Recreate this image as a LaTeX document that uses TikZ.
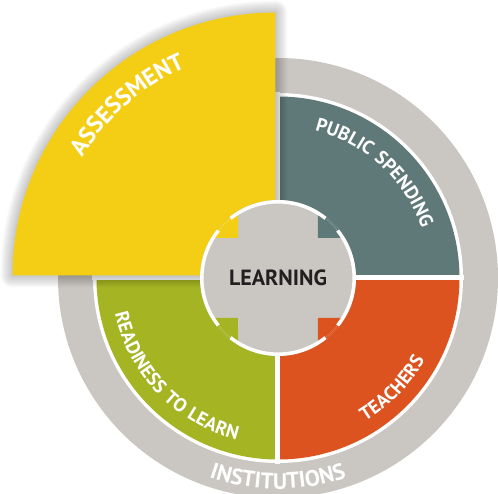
\documentclass[tikz,border=0pt]{standalone}
\usepackage{fontspec}
\setmainfont{PT Sans}
\newfontfamily\arcfontA[LetterSpace=8]{PT Sans}
\newfontfamily\arcfontB[LetterSpace=12]{PT Sans}
\newfontfamily\arcfontC[LetterSpace=24]{PT Sans}
\usetikzlibrary{decorations.text}
\definecolor{cRing}{HTML}{CAC7C3}
\definecolor{cYellow}{HTML}{F4CE14}
\definecolor{cTeal}{HTML}{5F7878}
\definecolor{cOrange}{HTML}{DC531F}
\definecolor{cGreen}{HTML}{A4B423}
\definecolor{cText}{HTML}{231F20}
\newcommand\myarcstyle{\arcfontA\bfseries\fontsize{19}{19}\selectfont\color{white}}
\newcommand\mybigarcstyle{\arcfontB\bfseries\fontsize{24}{24}\selectfont\color{white}}
\newcommand\myringarcstyle{\arcfontC\bfseries\fontsize{22.5}{22.5}\selectfont\color{white}}
\tikzset{
  gapline/.style={white,line width=5pt},
  rimarc/.style={white,line width=3.5pt},
  faintarc/.style={white,opacity=0.35,line width=0.4pt},
  arctext/.style={decorate,decoration={text along path,text align=center,text={|\myarcstyle|#1}}},
  bigarctext/.style={decorate,decoration={text along path,text align=center,text={|\mybigarcstyle|#1}}},
  ringarctext/.style={decorate,decoration={text along path,text align=center,text={|\myringarcstyle|#1}}},
  shadowlayer/.style={fill=black,opacity=0.018}
}
\begin{document}
\begin{tikzpicture}[x=1pt,y=1pt]
\useasboundingbox (-278,-216) rectangle (220,278);
% outer ring
\fill[cRing] (0,0) circle[radius=220pt];
\fill[white] (0,0) circle[radius=185pt];
% quadrants
\fill[cTeal] (0,0) -- (0:181.5pt) arc[start angle=0,end angle=90,radius=181.5pt] -- cycle;
\fill[cGreen] (0,0) -- (180:181.5pt) arc[start angle=180,end angle=270,radius=181.5pt] -- cycle;
\fill[cOrange] (0,0) -- (270:181.5pt) arc[start angle=270,end angle=360,radius=181.5pt] -- cycle;
\draw[gapline] (-186,0) -- (186,0) (0,-186) -- (0,186);
% yellow shadow
\foreach \i in {1,...,12}{
  \path[shadowlayer] (-2.5+\i,2.5-\i) -- (-2.5+\i,265.5)
    arc[start angle=0,end angle=90,radius={\i*1pt}]
    arc[start angle=90,end angle=180,radius={(263+\i)*1pt}]
    arc[start angle=180,end angle=270,radius={\i*1pt}] -- cycle;
}
% yellow sector
\fill[cYellow] (-2.5,2.5) -- (-2.5,265.5) arc[start angle=90,end angle=180,radius=263pt] -- cycle;
% centre
\fill[cRing] (0,0) circle[radius=78pt];
\fill[cTeal] (40,40) -- (59.15:78pt) arc[start angle=59.15,end angle=30.85,radius=78pt] -- cycle;
\fill[cYellow] (-40,40) -- (120.85:78pt) arc[start angle=120.85,end angle=149.15,radius=78pt] -- cycle;
\fill[cGreen] (-40,-40) -- (210.85:78pt) arc[start angle=210.85,end angle=239.15,radius=78pt] -- cycle;
\fill[cOrange] (40,-40) -- (300.85:78pt) arc[start angle=300.85,end angle=329.15,radius=78pt] -- cycle;
\draw[rimarc] (51.5:76.2pt) arc[start angle=51.5,end angle=128.5,radius=76.2pt];
\draw[rimarc] (141.5:76.2pt) arc[start angle=141.5,end angle=218.5,radius=76.2pt];
\draw[rimarc] (231.5:76.2pt) arc[start angle=231.5,end angle=308.5,radius=76.2pt];
\draw[rimarc] (321.5:76.2pt) arc[start angle=321.5,end angle=398.5,radius=76.2pt];
\foreach \a in {45,135,225,315}{
  \draw[faintarc] (\a-6.5:76.2pt) arc[start angle=\a-6.5,end angle=\a+6.5,radius=76.2pt];
}
\node[font=\fontsize{22}{22}\selectfont\bfseries,text=cText] (learn) at (0,0.5) {LEARNING};
% curved labels
\path[bigarctext={ASSESSMENT}] (176:230pt) arc[start angle=176,end angle=86,radius=230pt];
\path[arctext={PUBLIC SPENDING}] (97:152pt) arc[start angle=97,end angle=-2,radius=152pt];
\path[arctext={TEACHERS}] (-89:168pt) arc[start angle=-89,end angle=1,radius=168pt];
\path[arctext={READINESS TO LEARN}] (174:167pt) arc[start angle=174,end angle=274,radius=167pt];
\path[ringarctext={INSTITUTIONS}] (220:211pt) arc[start angle=220,end angle=320,radius=211pt];
\end{tikzpicture}
\end{document}
